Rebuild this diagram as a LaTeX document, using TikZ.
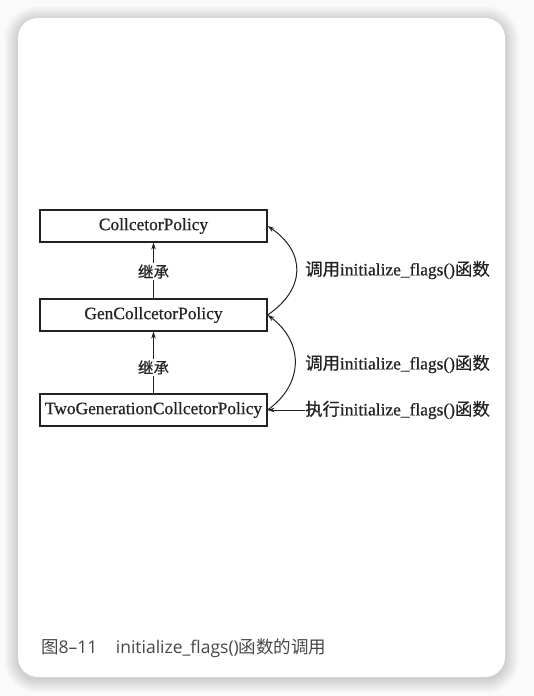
\documentclass[tikz,border=0pt]{standalone}
\usepackage{fontspec}
\setmainfont{Liberation Serif}
\newfontfamily\dfont{Liberation Serif}[FakeBold=0.6]
\newfontfamily\cjk{Noto Sans CJK SC}[FakeBold=0.5]
\newfontfamily\capfont{Noto Sans CJK SC}
\newfontfamily\caplat{Open Sans}
\usetikzlibrary{arrows.meta}
\definecolor{ink}{HTML}{222222}
\definecolor{captxt}{HTML}{474747}
\begin{document}
\begin{tikzpicture}[x=1pt,y=-1pt,
  box/.style={draw=ink, line width=1.2pt, minimum width=227pt, minimum height=32pt, inner sep=0pt,
    font=\dfont\fontsize{17.4}{20}\selectfont, text=ink},
  lbl/.style={anchor=west, inner sep=0pt, font=\dfont\fontsize{17.4}{20}\selectfont, text=ink},
  inh/.style={fill=white, inner sep=1.5pt, font=\cjk\fontsize{15.5}{18}\selectfont, text=ink},
  arr/.style={draw=ink, line width=1pt, -{Stealth[length=7pt,width=4.5pt]}},
  capt/.style={anchor=west, inner sep=0pt, font=\capfont\fontsize{17.5}{20}\selectfont, text=captxt}]
\useasboundingbox (0,0) rectangle (534,696);
\fill[gray!4] (0,0) rectangle (534,696);
\foreach \i in {1,...,14}{
  \fill[black, opacity=0.012, rounded corners={20pt+\i pt}]
    ({18-\i},{18-\i+2}) rectangle ({505+\i},{677+\i+2});
}
\fill[white, rounded corners=20pt] (18,18) rectangle (505,677);

\node[box] (b1) at (153.5,226) {CollcetorPolicy};
\node[box] (b2) at (153.5,315) {GenCollcetorPolicy};
\node[box] (b3) at (153.5,410) {TwoGenerationCollcetorPolicy};

\draw[arr] (b2.north) -- node[inh, pos=0.48] (i1) {继承} (b1.south);
\draw[arr] (b3.north) -- node[inh, pos=0.42] (i2) {继承} (b2.south);

\node[lbl] (l1) at (305,270) {{\cjk 调用}initialize\_flags(){\cjk 函数}};
\node[lbl] (l2) at (305,364) {{\cjk 调用}initialize\_flags(){\cjk 函数}};
\node[lbl] (l3) at (305,410) {{\cjk 执行}initialize\_flags(){\cjk 函数}};

\draw[arr] (b2.east) .. controls (306,289) and (306,252) .. (b1.east);
\draw[arr] (b3.east) .. controls (304,384) and (304,342) .. (b2.east);
\draw[arr] (l3.west) -- (b3.east);

\node[capt] (cap) at (41,648) {图{\caplat 8–11}\hspace{1.05em}{\caplat initialize\_flags()}函数的调用};
\end{tikzpicture}
\end{document}
